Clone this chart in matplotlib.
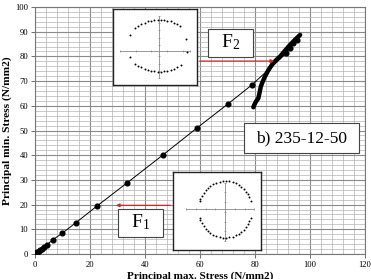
import matplotlib as mpl
mpl.use('Agg')
import matplotlib.pyplot as plt
from matplotlib.patches import Rectangle

plt.rcParams['font.family'] = ['Liberation Serif', 'DejaVu Serif']
plt.rcParams['mathtext.fontset'] = 'custom'
plt.rcParams['mathtext.rm'] = 'Liberation Serif'
plt.rcParams['mathtext.it'] = 'Liberation Serif:italic'

# main series: proportional loading line with markers
line_x = [0, 0.3, 0.6, 0.9, 1.3, 1.8, 2.4, 3.2, 4.2, 6.4, 9.9, 14.9, 22.4, 33.6,
          46.4, 59.0, 70.1, 78.8, 89.0, 91.2, 92.7, 93.9, 95.4]
line_y = [0, 0.3, 0.5, 0.8, 1.1, 1.6, 2.1, 2.8, 3.6, 5.7, 8.4, 12.7, 19.3, 28.9,
          40.0, 51.1, 60.7, 68.4, 78.8, 81.2, 83.3, 85.3, 86.6]
line_marked = [True] * 18 + [False, True, True, True, True]

# thick failure curve
curve_x = [79.4, 79.8, 80.4, 81.2, 81.7, 82.1, 82.8, 83.6, 84.8, 86.1, 87.5,
           89.1, 90.9, 92.7, 94.6, 96.4]
curve_y = [59.4, 60.5, 61.8, 63.0, 65.5, 67.7, 69.8, 71.8, 74.3, 76.5, 78.3,
           79.9, 82.3, 84.6, 86.8, 88.7]

# inset F2 (upper) point cloud
f2_top_x = [-0.74, -0.65, -0.55, -0.45, -0.35, -0.25, -0.15, -0.05, 0.05, 0.15,
            0.25, 0.35, 0.45, 0.55, 0.63]
f2_top_y = [0.70, 0.76, 0.81, 0.86, 0.90, 0.92, 0.94, 0.95, 0.95, 0.94, 0.92,
            0.90, 0.86, 0.81, 0.77]
f2_bot_x = [-0.74, -0.65, -0.55, -0.45, -0.35, -0.25, -0.15, -0.05, 0.05, 0.15,
            0.25, 0.35, 0.45, 0.55, 0.68]
f2_bot_y = [-0.40, -0.46, -0.51, -0.56, -0.60, -0.62, -0.64, -0.65, -0.65, -0.64,
            -0.62, -0.60, -0.56, -0.51, -0.44]
f2_side_x = [-0.90, 0.82, -0.90, 0.84]
f2_side_y = [0.48, 0.36, -0.19, -0.05]

# inset F1 (lower) point cloud
f1_top_x = [0.78, 0.74, 0.70, 0.64, 0.57, 0.49, 0.41, 0.32, 0.23, 0.13, 0.03,
            -0.07, -0.17, -0.27, -0.36, -0.45, -0.53, -0.60, -0.66, -0.72, -0.76, -0.78]
f1_top_y = [0.25, 0.35, 0.44, 0.53, 0.61, 0.68, 0.73, 0.78, 0.82, 0.84, 0.85,
            0.85, 0.83, 0.80, 0.76, 0.71, 0.65, 0.57, 0.49, 0.40, 0.31, 0.23]
f1_bot_x = [0.78, 0.74, 0.70, 0.64, 0.57, 0.49, 0.41, 0.32, 0.23, 0.13, 0.03,
            -0.07, -0.17, -0.27, -0.36, -0.45, -0.53, -0.60, -0.66, -0.72, -0.76, -0.78]
f1_bot_y = [-0.29, -0.39, -0.48, -0.57, -0.65, -0.72, -0.77, -0.82, -0.86, -0.88, -0.89,
            -0.89, -0.87, -0.84, -0.80, -0.75, -0.69, -0.61, -0.53, -0.44, -0.35, -0.27]

label_text = 'b) 235-12-50'
red = '#cc2a2a'

fig = plt.figure(figsize=(3.71, 2.79), dpi=100)
ax = fig.add_axes([0.0943, 0.0896, 0.8895, 0.8853])

ax.set_xlim(0, 120)
ax.set_ylim(0, 100)
ax.set_xticks(range(0, 121, 20))
ax.set_yticks(range(0, 101, 10))
ax.set_xticks(range(0, 121, 4), minor=True)
ax.set_yticks(range(0, 101, 2), minor=True)
ax.grid(which='major', color='#8a8a8a', lw=0.8)
ax.grid(which='minor', color='#b4b4b4', lw=0.5)
ax.set_axisbelow(True)
ax.tick_params(which='major', labelsize=6.2, length=3, width=0.6, pad=2, color='#555555')
ax.tick_params(which='minor', length=0)
for s in ax.spines.values():
    s.set_color('#777777')
    s.set_linewidth(0.8)

ax.set_xlabel('Principal max. Stress (N/mm2)', fontsize=8.0, fontweight='bold', labelpad=1.5)
ax.set_ylabel('Principal min. Stress (N/mm2)', fontsize=8.2, fontweight='bold', labelpad=2)

ax.plot(line_x, line_y, color='black', lw=0.7, zorder=3)
mx = [x for x, m in zip(line_x, line_marked) if m]
my = [y for y, m in zip(line_y, line_marked) if m]
ax.plot(mx, my, 'o', color='black', ms=3.4, zorder=3)
ax.plot(curve_x, curve_y, color='black', lw=3.2, solid_capstyle='round', zorder=4)

# annotation boxes
ax.add_patch(Rectangle((62.9, 79.8), 16.4, 11.3, fc='white', ec='#444444', lw=0.8, zorder=5))
ax.text(71.1, 85.6, r'$\mathrm{F}_2$', fontsize=14, ha='center', va='center', zorder=6)
ax.add_patch(Rectangle((30.2, 6.9), 16.3, 11.3, fc='white', ec='#444444', lw=0.8, zorder=5))
ax.text(38.4, 12.7, r'$\mathrm{F}_1$', fontsize=14, ha='center', va='center', zorder=6)
ax.add_patch(Rectangle((76.0, 40.9), 41.8, 12.1, fc='white', ec='#444444', lw=0.8, zorder=5))
ax.text(96.9, 46.8, label_text, fontsize=12.5, ha='center', va='center', zorder=6)

ax.annotate('', xy=(88.0, 78.1), xytext=(58.9, 78.1),
            arrowprops=dict(arrowstyle='-|>', color=red, lw=0.9, mutation_scale=5), zorder=5)
ax.annotate('', xy=(28.4, 19.7), xytext=(50.2, 19.7),
            arrowprops=dict(arrowstyle='-|>', color=red, lw=0.9, mutation_scale=5), zorder=5)


def draw_inset(rect, xlim, ylim, xt, yt, groups):
    axi = fig.add_axes(rect)
    axi.set_xlim(*xlim)
    axi.set_ylim(*ylim)
    axi.set_xticks([])
    axi.set_yticks([])
    for s in axi.spines.values():
        s.set_color('#222222')
        s.set_linewidth(1.0)
    axi.plot([xt[0], xt[-1]], [0, 0], color='#888888', lw=0.6)
    axi.plot([0, 0], [yt[0], yt[-1]], color='#888888', lw=0.6)
    axi.plot(xt, [0] * len(xt), '|', color='#888888', ms=2, mew=0.5)
    axi.plot([0] * len(yt), yt, '_', color='#888888', ms=2, mew=0.5)
    for gx, gy in groups:
        axi.plot(gx, gy, 'o', color='black', ms=1.4, mew=0)
    return axi


draw_inset([0.3046, 0.6953, 0.2264, 0.2724], (-1.42, 1.16), (-1.06, 1.28),
           [-1.20, -0.72, -0.24, 0.24, 0.72, 0.96],
           [-0.84, -0.62, -0.40, -0.18, 0.18, 0.40, 0.62, 0.84, 1.06],
           [(f2_top_x, f2_top_y), (f2_bot_x, f2_bot_y), (f2_side_x, f2_side_y)])

draw_inset([0.4663, 0.1039, 0.2372, 0.2796], (-1.60, 1.10), (-1.27, 1.13),
           [-1.20, -0.90, -0.60, -0.30, 0.30, 0.60, 0.90],
           [-1.00, -0.70, -0.40, -0.10, 0.20, 0.50, 0.80],
           [(f1_top_x, f1_top_y), (f1_bot_x, f1_bot_y)])

fig.savefig('out.png', dpi=100)
